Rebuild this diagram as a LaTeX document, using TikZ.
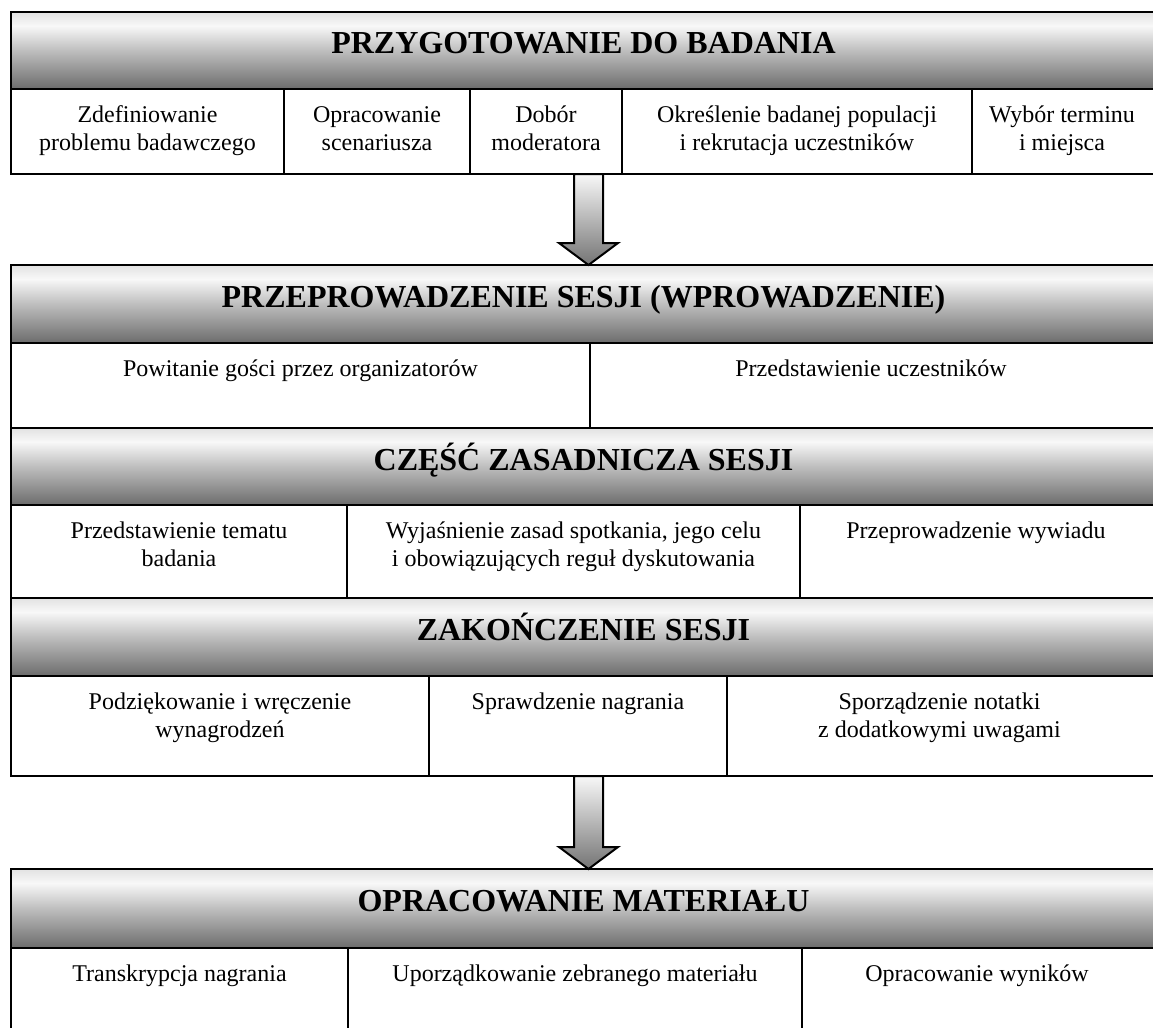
\documentclass[tikz,border=0pt]{standalone}
\usepackage{fontspec}
\setmainfont{Liberation Serif}
\usetikzlibrary{calc}
\definecolor{hdrB}{HTML}{6C6C6C}
\definecolor{hdrM}{HTML}{BEBEBE}
\definecolor{hdrW}{HTML}{F8F8F8}
\definecolor{hdrT}{HTML}{E2E2E2}
\definecolor{arrT}{HTML}{F8F8F8}
\definecolor{arrB}{HTML}{747474}
\pgfdeclareverticalshading{hdrshade}{100bp}{color(0bp)=(hdrB); color(25bp)=(hdrB); color(50bp)=(hdrM); color(66bp)=(hdrW); color(75bp)=(hdrT); color(100bp)=(hdrT)}
\newcommand\mkcell[5]{\node[cellbox, minimum width={(#4-#2)*0.5pt}, minimum height={(#5-#3)*0.5pt}] (#1) at (#2,#3) {};}
\begin{document}
\begin{tikzpicture}[x=0.5pt,y=-0.5pt,
  hdrbox/.style={draw, line width=1pt, shade, shading=hdrshade, inner sep=0pt, outer sep=0pt,
    anchor=north west, minimum width=572.5pt, text height=21pt,
    font=\fontsize{16}{18}\selectfont\bfseries},
  cellbox/.style={draw, line width=1pt, inner sep=0pt, outer sep=0pt, anchor=north west},
  txt/.style={align=center, inner sep=0pt, anchor=north, font=\fontsize{12}{13.8}\selectfont},
  arrowbody/.style={draw, line width=1pt, line join=miter, top color=arrT, bottom color=arrB}]
\useasboundingbox (0,0) rectangle (1153,1028);

% ---------- Box 1
\node[hdrbox, text depth=17.5pt] (h1) at (11,12) {PRZYGOTOWANIE DO BADANIA};
\mkcell{c11}{11}{89}{284}{174}
\mkcell{c12}{284}{89}{470}{174}
\mkcell{c13}{470}{89}{622}{174}
\mkcell{c14}{622}{89}{972}{174}
\mkcell{c15}{972}{89}{1156}{174}
\node[txt] (t11) at ([yshift=-6.85pt]c11.north) {\strut Zdefiniowanie\\problemu badawczego};
\node[txt] (t12) at ([yshift=-6.85pt]c12.north) {\strut Opracowanie\\scenariusza};
\node[txt] (t13) at ([yshift=-6.85pt]c13.north) {\strut Dobór\\moderatora};
\node[txt] (t14) at ([yshift=-6.85pt]c14.north) {\strut Określenie badanej populacji\\i rekrutacja uczestników};
\node[txt] (t15) at ([xshift=-1pt,yshift=-6.85pt]c15.north) {\strut Wybór terminu\\i miejsca};

% ---------- Box 2
\node[hdrbox, text depth=18pt] (h2) at (11,265) {PRZEPROWADZENIE SESJI (WPROWADZENIE)};
\mkcell{c21}{11}{343}{590}{428}
\mkcell{c22}{590}{343}{1156}{428}
\node[txt] (t21) at ([yshift=-6.85pt]c21.north) {\strut Powitanie gości przez organizatorów};
\node[txt] (t22) at ([xshift=-1pt,yshift=-6.85pt]c22.north) {\strut Przedstawienie uczestników};

% ---------- Box 3
\node[hdrbox, text depth=17.5pt] (h3) at (11,428) {CZĘŚĆ ZASADNICZA SESJI};
\mkcell{c31}{11}{505}{347}{598}
\mkcell{c32}{347}{505}{800}{598}
\mkcell{c33}{800}{505}{1156}{598}
\node[txt] (t31) at ([yshift=-6.85pt]c31.north) {\strut Przedstawienie tematu\\badania};
\node[txt] (t32) at ([yshift=-6.85pt]c32.north) {\strut Wyjaśnienie zasad spotkania, jego celu\\i obowiązujących reguł dyskutowania};
\node[txt] (t33) at ([xshift=-1pt,yshift=-6.85pt]c33.north) {\strut Przeprowadzenie wywiadu};

% ---------- Box 4
\node[hdrbox, text depth=18pt] (h4) at (11,598) {ZAKOŃCZENIE SESJI};
\mkcell{c41}{11}{676}{429}{776}
\mkcell{c42}{429}{676}{727}{776}
\mkcell{c43}{727}{676}{1156}{776}
\node[txt] (t41) at ([yshift=-6.85pt]c41.north) {\strut Podziękowanie i wręczenie\\wynagrodzeń};
\node[txt] (t42) at ([yshift=-6.85pt]c42.north) {\strut Sprawdzenie nagrania};
\node[txt] (t43) at ([xshift=-1pt,yshift=-6.85pt]c43.north) {\strut Sporządzenie notatki\\z dodatkowymi uwagami};

% ---------- Box 5
\node[hdrbox, text depth=18.5pt] (h5) at (11,869) {OPRACOWANIE MATERIAŁU};
\mkcell{c51}{11}{948}{348}{1040}
\mkcell{c52}{348}{948}{802}{1040}
\mkcell{c53}{802}{948}{1156}{1040}
\node[txt] (t51) at ([yshift=-6.85pt]c51.north) {\strut Transkrypcja nagrania};
\node[txt] (t52) at ([yshift=-6.85pt]c52.north) {\strut Uporządkowanie zebranego materiału};
\node[txt] (t53) at ([xshift=-1pt,yshift=-6.85pt]c53.north) {\strut Opracowanie wyników};

% ---------- Arrows
\coordinate (a1s) at (588.5,0 |- c13.south);
\coordinate (a1e) at (588.5,0 |- h2.north);
\coordinate (a2s) at (588.5,0 |- c42.south);
\coordinate (a2e) at (588.5,0 |- h5.north);
\foreach \s/\e in {a1s/a1e, a2s/a2e}{
  \draw[arrowbody] ($(\s)+(-14.5,0)$) -- ($(\s)+(14.5,0)$) -- ($(\e)+(14.5,-22)$)
    -- ($(\e)+(29.5,-22)$) -- (\e) -- ($(\e)+(-29.5,-22)$) -- ($(\e)+(-14.5,-22)$) -- cycle;
}
\end{tikzpicture}
\end{document}
